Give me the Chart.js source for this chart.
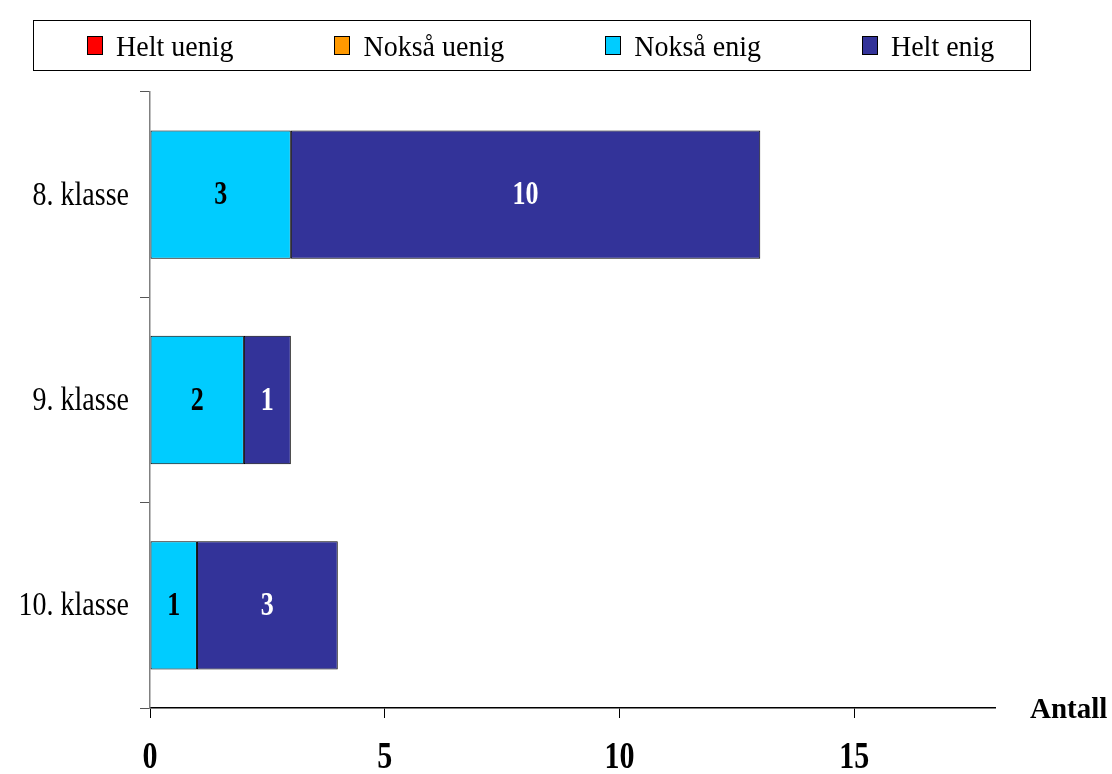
<!DOCTYPE html>
<html>
<head>
<meta charset="utf-8">
<script src="https://cdn.jsdelivr.net/npm/chart.js@4/dist/chart.umd.min.js"></script>
<style>
    body { margin: 0; background: #fff; }
    #wrap { position: relative; width: 1112px; height: 774px; }
    #legend {
        position: absolute; left: 33px; top: 20px; width: 943px; height: 49px;
        padding-left: 53px;
        border: 1px solid #000; display: flex; justify-content: flex-start; align-items: center;
        gap: 101px; font-family: "Liberation Serif", "Times New Roman", serif; font-size: 28px;
    }
    #legend .item { display: flex; align-items: center; }
    #legend .box { width: 14px; height: 17px; border: 1px solid #000; margin-right: 13px; }
    #legend .txt { display: inline-block; transform: scaleY(1.08); }
</style>
</head>
<body>
<div id="wrap">
    <canvas id="grafico"></canvas>
    <div id="legend"></div>
</div>
<script>
const klasser = ['8. klasse', '9. klasse', '10. klasse'];
const serier = ['Helt uenig', 'Nokså uenig', 'Nokså enig', 'Helt enig'];
const heltUenig = [0, 0, 0];
const noksaUenig = [0, 0, 0];
const noksaEnig = [3, 2, 1];
const heltEnig = [10, 1, 3];
const xTicks = [0, 5, 10, 15];

const farger = ['#FF0000', '#FF9900', '#00CCFF', '#333399'];
const tekstFarger = ['#000', '#000', '#000', '#fff'];
const verdier = [heltUenig, noksaUenig, noksaEnig, heltEnig];
const fontFamilie = '"Liberation Serif", "Times New Roman", serif';

const datasets = serier.map((navn, i) => ({
    label: navn,
    data: verdier[i],
    backgroundColor: farger[i],
    borderColor: '#000',
    borderWidth: 1,
    borderSkipped: false,
    barPercentage: 0.625,
    categoryPercentage: 1
}));

// tekst som er litt strukket i høyden, slik som i originalen
function strektTekst(ctx, tekst, x, y, font, sy, align, farge) {
    ctx.save();
    ctx.font = font;
    ctx.fillStyle = farge;
    ctx.textAlign = align;
    ctx.textBaseline = 'middle';
    ctx.translate(x, y);
    ctx.scale(1, sy);
    ctx.fillText(tekst, 0, 0);
    ctx.restore();
}

const tekster = {
    id: 'tekster',
    afterDatasetsDraw(chart) {
        const ctx = chart.ctx;
        // tall midt i hver bar
        chart.data.datasets.forEach((ds, i) => {
            const meta = chart.getDatasetMeta(i);
            meta.data.forEach((bar, j) => {
                if (!ds.data[j]) return;
                const p = bar.getCenterPoint();
                strektTekst(ctx, String(ds.data[j]), p.x, p.y + 1, 'bold 26px ' + fontFamilie, 1.3, 'center', tekstFarger[i]);
            });
        });
        // kategorinavn
        const y = chart.scales.y;
        chart.data.labels.forEach((navn, i) => {
            strektTekst(ctx, navn, 129, y.getPixelForValue(i) + 1, '28px ' + fontFamilie, 1.22, 'right', '#000');
        });
        // x-akse tall
        const x = chart.scales.x;
        x.ticks.forEach(t => {
            strektTekst(ctx, String(t.value), x.getPixelForValue(t.value), 758, 'bold 30px ' + fontFamilie, 1.27, 'center', '#000');
        });
        // aksetittel
        strektTekst(ctx, 'Antall', chart.chartArea.right + 35, chart.chartArea.bottom + 3, 'bold 29px ' + fontFamilie, 1, 'left', '#000');
    }
};

const config = {
    type: 'bar',
    data: { labels: klasser, datasets },
    options: {
        indexAxis: 'y',
        responsive: true,
        maintainAspectRatio: false,
        animation: false,
        layout: { padding: { top: 92, right: 117, left: 0, bottom: 0 } },
        plugins: {
            legend: { display: false },
            tooltip: { enabled: false }
        },
        scales: {
            x: {
                stacked: true,
                min: 0,
                max: 18,
                afterBuildTicks: (scale) => {
                    scale.ticks = xTicks.map(v => ({ value: v }));
                },
                afterFit: (scale) => { scale.height = 66; },
                border: { color: '#000', width: 1.5 },
                grid: { drawOnChartArea: false, tickLength: 10, color: '#000' },
                ticks: { display: false }
            },
            y: {
                stacked: true,
                afterFit: (scale) => { scale.width = 150; },
                border: { color: '#808080', width: 1.5 },
                grid: { offset: true, drawOnChartArea: false, tickLength: 10, color: '#555' },
                ticks: { display: false }
            }
        }
    },
    plugins: [tekster]
};

const legend = document.getElementById('legend');
serier.forEach((navn, i) => {
    const item = document.createElement('div');
    item.className = 'item';
    item.innerHTML = `<span class="box" style="background:${farger[i]}"></span><span class="txt">${navn}</span>`;
    legend.appendChild(item);
});

const ctx = document.getElementById('grafico').getContext('2d');
new Chart(ctx, config);
</script>
</body>
</html>
